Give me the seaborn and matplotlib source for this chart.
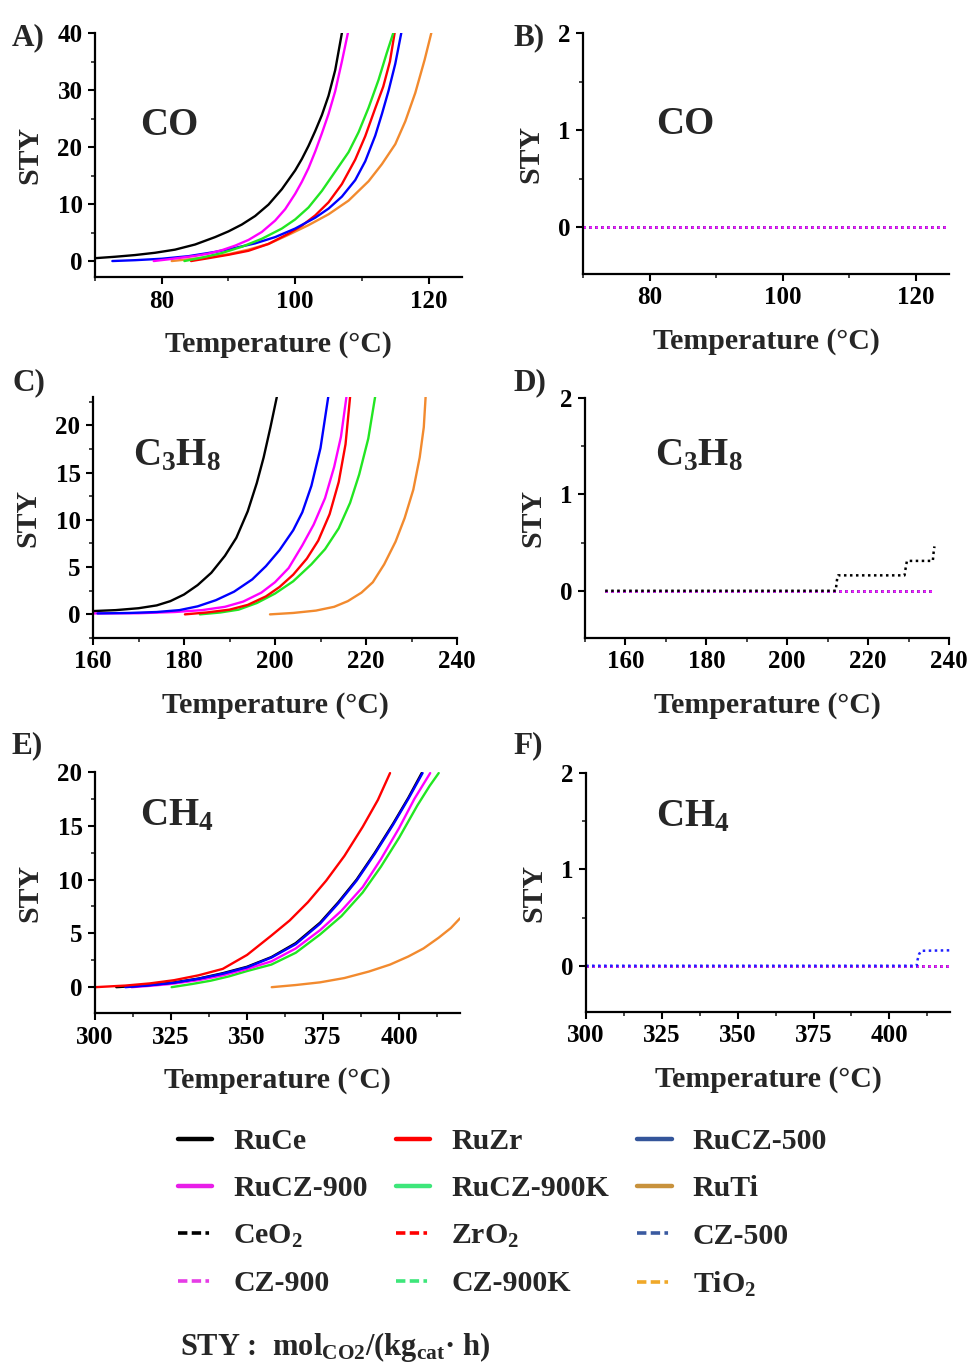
import numpy as np
import pandas as pd
import matplotlib
matplotlib.use("Agg")
import matplotlib.pyplot as plt
from matplotlib.lines import Line2D
from matplotlib.ticker import MultipleLocator
import seaborn as sns

sns.set_theme(style="ticks")
plt.rcParams['font.family'] = ['Liberation Serif', 'DejaVu Serif']
plt.rcParams['font.weight'] = 'bold'
plt.rcParams['mathtext.fontset'] = 'custom'
plt.rcParams['mathtext.rm'] = 'Liberation Serif:bold'
plt.rcParams['mathtext.bf'] = 'Liberation Serif:bold'
plt.rcParams['mathtext.it'] = 'Liberation Serif:bold'

# ---------------- data ----------------
catalysts = ["RuCe", "RuZr", "RuCZ-500", "RuCZ-900", "RuCZ-900K", "RuTi"]
supports = ["CeO$_\\mathbf{2}$", "ZrO$_\\mathbf{2}$", "CZ-500", "CZ-900", "CZ-900K", "TiO$_\\mathbf{2}$"]

# Panel A: CO over Ru catalysts (temperature in degC, STY)
co_T = {
    "RuCe": [70, 73, 76, 79, 82, 85, 88, 90, 92, 94, 96, 98, 100, 101, 102, 103, 104, 105, 106, 107],
    "RuCZ-900": [78.8, 81, 83, 85, 87, 89, 91, 93, 95, 97, 98.5, 100, 101, 102, 103, 104, 105, 106, 107, 107.9],
    "RuCZ-500": [72.6, 76, 80, 84, 88, 91, 94, 97, 100, 103, 105, 107, 109, 110.5, 112, 113, 114, 115, 115.9],
    "RuCZ-900K": [83.4, 86, 89, 92, 95, 98, 100, 102, 104, 106, 108, 109.5, 111, 112.5, 113.7, 114.7],
    "RuZr": [84.4, 87, 90, 93, 96, 99, 101, 103, 105, 107, 109, 110.5, 112, 113.2, 114.2, 114.9],
    "RuTi": [81.5, 84, 87, 90, 93, 96, 99, 102, 105, 108, 111, 113, 115, 116.5, 118, 119.4, 120.4],
}
co_S = {
    "RuCe": [0.5, 0.75, 1.05, 1.45, 2.0, 2.9, 4.2, 5.2, 6.4, 7.9, 9.9, 12.6, 15.9, 17.9, 20.2, 22.8, 25.6, 29.0, 33.5, 40],
    "RuCZ-900": [0, 0.3, 0.6, 0.9, 1.3, 1.9, 2.7, 3.7, 5.1, 7.1, 9.1, 11.8, 13.9, 16.3, 19.2, 22.4, 25.8, 29.8, 35.0, 40],
    "RuCZ-500": [0, 0.15, 0.4, 0.85, 1.6, 2.3, 3.1, 4.2, 5.7, 7.6, 9.2, 11.3, 14.2, 17.5, 22.0, 25.8, 29.9, 34.6, 40],
    "RuCZ-900K": [0, 0.6, 1.4, 2.5, 3.9, 5.7, 7.3, 9.4, 12.3, 15.7, 19.1, 22.6, 26.9, 31.8, 36.4, 40],
    "RuZr": [0, 0.5, 1.1, 1.8, 3.0, 4.8, 6.2, 8.0, 10.3, 13.5, 17.8, 21.9, 26.8, 30.6, 35.0, 40],
    "RuTi": [0, 0.3, 0.7, 1.2, 2.0, 3.0, 4.6, 6.3, 8.2, 10.6, 14.0, 17.0, 20.5, 24.5, 29.5, 35.3, 40],
}

# Panel C: C3H8 over Ru catalysts
c3_T = {
    "RuCe": [160, 165, 170, 174, 177, 180, 183, 186, 189, 191.5, 194, 196, 197.5, 199, 200.4],
    "RuCZ-500": [161, 168, 174, 179, 183, 187, 191, 195, 198, 201, 204, 206, 208, 210, 211.7],
    "RuCZ-900": [160, 170, 178, 184, 189, 193, 197, 200, 203, 206, 208.5, 211, 213, 214.5, 215.7],
    "RuZr": [180.2, 185, 190, 194, 198, 201, 204, 207, 209.5, 212, 214, 215.5, 216.5],
    "RuCZ-900K": [183.5, 188, 192, 196, 200, 204, 208, 211, 214, 216.5, 218.5, 220.5, 222],
    "RuTi": [198.9, 204, 209, 213, 216, 219, 221.5, 224, 226.5, 228.5, 230.4, 231.8, 232.7, 233.1],
}
c3_S = {
    "RuCe": [0.35, 0.45, 0.65, 0.95, 1.4, 2.1, 3.1, 4.4, 6.2, 8.1, 10.9, 13.9, 16.6, 19.8, 23],
    "RuCZ-500": [0.1, 0.15, 0.25, 0.45, 0.85, 1.5, 2.4, 3.7, 5.1, 6.8, 8.9, 10.8, 13.6, 17.6, 23],
    "RuCZ-900": [0.1, 0.12, 0.25, 0.45, 0.8, 1.35, 2.3, 3.4, 4.9, 7.3, 9.5, 12.3, 15.6, 18.8, 23],
    "RuZr": [0, 0.2, 0.5, 1.0, 1.9, 2.9, 4.2, 5.9, 7.8, 10.6, 14.0, 18.0, 23],
    "RuCZ-900K": [0, 0.2, 0.5, 1.2, 2.2, 3.5, 5.3, 6.9, 9.1, 11.8, 14.8, 18.6, 23],
    "RuTi": [0, 0.15, 0.4, 0.8, 1.4, 2.3, 3.4, 5.3, 7.7, 10.2, 13.2, 16.6, 19.8, 23],
}

# Panel E: CH4 over Ru catalysts
ch4_T = {
    "RuZr": [300, 310, 318, 326, 334, 342, 350, 358, 364, 370, 376, 382, 388, 393, 397],
    "RuCe": [307, 316, 325, 334, 342, 350, 358, 366, 374, 380, 386, 392, 398, 403, 407.4],
    "RuCZ-500": [310, 318, 326, 334, 342, 350, 358, 366, 374, 380, 386, 392, 398, 403, 407.7],
    "RuCZ-900": [312, 318, 325, 334, 342, 350, 358, 366, 374, 381, 388, 394, 400, 405, 410.2],
    "RuCZ-900K": [325.2, 332, 338, 344, 350, 358, 366, 374, 381, 388, 394, 400, 406, 410, 413],
    "RuTi": [358.1, 366, 374, 382, 390, 397, 403, 408, 413, 417, 420],
}
ch4_S = {
    "RuZr": [0, 0.15, 0.35, 0.65, 1.1, 1.7, 3.0, 4.8, 6.2, 7.9, 9.9, 12.2, 14.9, 17.4, 19.9],
    "RuCe": [0, 0.15, 0.4, 0.8, 1.3, 1.9, 2.8, 4.1, 6.0, 7.9, 10.0, 12.5, 15.2, 17.6, 19.9],
    "RuCZ-500": [0, 0.18, 0.42, 0.78, 1.25, 1.85, 2.75, 4.0, 5.9, 7.8, 9.9, 12.4, 15.1, 17.5, 19.9],
    "RuCZ-900": [0, 0.12, 0.3, 0.65, 1.1, 1.7, 2.4, 3.6, 5.3, 7.1, 9.3, 11.9, 14.8, 17.5, 19.9],
    "RuCZ-900K": [0, 0.3, 0.6, 1.0, 1.5, 2.1, 3.2, 4.9, 6.6, 8.8, 11.2, 13.9, 16.9, 18.7, 19.9],
    "RuTi": [0, 0.2, 0.45, 0.85, 1.45, 2.1, 2.85, 3.6, 4.6, 5.5, 6.4],
}

# Panels B, D, F: bare supports
b_T = [70, 125]
b_S = [0, 0]
d_T = [155, 236.5]
d_S = [0, 0]
d_ceo2_T = [155, 212, 212.2, 212.4, 212.6, 229, 229.3, 229.6, 236, 236.2, 236.4]
d_ceo2_S = [0, 0, 0.08, 0.14, 0.16, 0.16, 0.24, 0.31, 0.31, 0.40, 0.46]
f_T = [300, 420]
f_S = [0, 0]
f_cz500_T = [300, 409, 409.3, 409.8, 410.5, 420]
f_cz500_S = [0, 0, 0.06, 0.12, 0.155, 0.16]

# ---------------- styles ----------------
curve_col = {"RuCe": "#000000", "RuZr": "#ff0000", "RuCZ-500": "#0000ff",
             "RuCZ-900": "#ff00ff", "RuCZ-900K": "#22e622", "RuTi": "#f28a2e"}
leg_solid_col = ["#000000", "#ff0000", "#34559a", "#e81ee8", "#3de67a", "#c8923c"]
leg_dash_col = ["#000000", "#ff0000", "#3a5aa0", "#e63ce6", "#3de67a", "#f0a828"]
support_col = ["#000000", "#ff2020", "#2020ff", "#ff20ff", "#22e622", "#f0a020"]

W, H = 973, 1365
fig = plt.figure(figsize=(W / 100, H / 100), dpi=100)


def px_axes(l, r, t, b):
    return fig.add_axes([l / W, 1 - b / H, (r - l) / W, (b - t) / H])


axA = px_axes(95, 462, 33, 277)
axB = px_axes(583, 949, 33, 274)
axC = px_axes(93, 457, 397, 638)
axD = px_axes(585, 949, 398, 638)
axE = px_axes(95, 460, 772, 1013)
axF = px_axes(586, 950, 773, 1012)

lw = 1.7


def draw_curves(ax, Td, Sd, order):
    for k in order:
        df = pd.DataFrame({"T": Td[k], "S": Sd[k]})
        sns.lineplot(data=df, x="T", y="S", ax=ax, color=curve_col[k], lw=lw,
                     estimator=None, sort=False, legend=False)


draw_curves(axA, co_T, co_S, ["RuTi", "RuZr", "RuCZ-500", "RuCZ-900K", "RuCZ-900", "RuCe"])
draw_curves(axC, c3_T, c3_S, ["RuTi", "RuCZ-900K", "RuZr", "RuCZ-900", "RuCZ-500", "RuCe"])
draw_curves(axE, ch4_T, ch4_S, ["RuTi", "RuCZ-900K", "RuCZ-900", "RuCe", "RuCZ-500", "RuZr"])

dots = (0, (1.0, 1.4))


def draw_supports(ax, T, S, special=None):
    for i in [5, 4, 1, 0, 2, 3]:
        df = pd.DataFrame({"T": T, "S": S})
        sns.lineplot(data=df, x="T", y="S", ax=ax, color=support_col[i], lw=1.8,
                     linestyle=dots, estimator=None, sort=False, legend=False)
    if special is not None:
        i, Ts, Ss = special
        df = pd.DataFrame({"T": Ts, "S": Ss})
        sns.lineplot(data=df, x="T", y="S", ax=ax, color=support_col[i], lw=1.8,
                     linestyle=dots, estimator=None, sort=False, legend=False)


draw_supports(axB, b_T, b_S)
draw_supports(axD, d_T, d_S, (0, d_ceo2_T, d_ceo2_S))
draw_supports(axF, f_T, f_S, (2, f_cz500_T, f_cz500_S))

# ---------------- axes styling ----------------
cfg = [
    (axA, (70, 125), (-2.8, 40), [80, 100, 120], 10, [0, 10, 20, 30, 40], 5, "CO", (0.123, 0.582)),
    (axB, (70, 125), (-0.48, 2), [80, 100, 120], 10, [0, 1, 2], 0.5, "CO", (0.2, 0.581)),
    (axC, (160, 240), (-2.5, 23), [160, 180, 200, 220, 240], 10, [0, 5, 10, 15, 20], 2.5,
     "C$_\\mathbf{3}$H$_\\mathbf{8}$", (0.11, 0.718)),
    (axD, (150, 240), (-0.49, 2), [160, 180, 200, 220, 240], 10, [0, 1, 2], 0.5,
     "C$_\\mathbf{3}$H$_\\mathbf{8}$", (0.192, 0.72)),
    (axE, (300, 420), (-2.4, 20), [300, 325, 350, 375, 400], 12.5, [0, 5, 10, 15, 20], 2.5,
     "CH$_\\mathbf{4}$", (0.123, 0.78)),
    (axF, (300, 420), (-0.48, 2), [300, 325, 350, 375, 400], 12.5, [0, 1, 2], 0.5,
     "CH$_\\mathbf{4}$", (0.192, 0.778)),
]
for ax, xl, yl, xt, xmin_, yt, ymin_, comp, cpos in cfg:
    ax.set_xlim(*xl)
    ax.set_ylim(*yl)
    ax.set_xticks(xt)
    ax.set_yticks(yt)
    ax.xaxis.set_minor_locator(MultipleLocator(xmin_))
    ax.yaxis.set_minor_locator(MultipleLocator(ymin_))
    sns.despine(ax=ax)
    for s in ["left", "bottom"]:
        ax.spines[s].set_linewidth(1.6)
        ax.spines[s].set_color("black")
    ax.tick_params(which="major", direction="out", length=5, width=1.5, labelsize=18,
                   colors="black", pad=4)
    ax.tick_params(which="minor", direction="out", length=3, width=1.2)
    for lab in ax.get_xticklabels() + ax.get_yticklabels():
        lab.set_fontweight("bold")
        lab.set_fontsize(18)
    ax.set_xlabel("Temperature (°C)", fontsize=21.5, fontweight="bold", labelpad=13)
    ax.set_ylabel("STY", fontsize=21.5, fontweight="bold", labelpad=10)
    ax.text(cpos[0], cpos[1], comp, transform=ax.transAxes, fontsize=28,
            fontweight="bold", ha="left", va="baseline")
    ax.set_facecolor("white")

# panel letters
letters = [("A)", 12, 45), ("B)", 513, 45), ("C)", 12, 390), ("D)", 513, 390),
           ("E)", 12, 753), ("F)", 513, 753)]
for t, x, y in letters:
    fig.text(x / W, 1 - y / H, t, fontsize=22.5, fontweight="bold", ha="left", va="baseline")

# ---------------- legend ----------------
dash_style = (0, (2.6, 1.2, 2.6, 1.2, 1.0, 1.2))
handles, labels = [], []
for col in range(3):
    for row in range(4):
        i = col + 3 * (row % 2)
        if row < 2:
            handles.append(Line2D([], [], color=leg_solid_col[i], lw=3.2))
            labels.append(catalysts[i])
        else:
            handles.append(Line2D([], [], color=leg_dash_col[i], lw=2.6, linestyle=dash_style))
            labels.append(supports[i])

leg = fig.legend(handles, labels, ncol=3, loc="upper left",
                 bbox_to_anchor=(178 / W, 1 - 1128 / H),
                 frameon=False, fontsize=21.5, handlelength=1.15, handletextpad=0.7,
                 columnspacing=0.95, labelspacing=0.68, borderpad=0, borderaxespad=0)
for t in leg.get_texts():
    t.set_fontweight("bold")

fig.text(180 / W, 1 - 1355 / H, "STY :  mol$_{\\mathbf{CO2}}$/(kg$_{\\mathbf{cat}}$· h)",
         fontsize=22, fontweight="bold", ha="left", va="baseline")

fig.savefig("out.png", dpi=100, facecolor="white")
